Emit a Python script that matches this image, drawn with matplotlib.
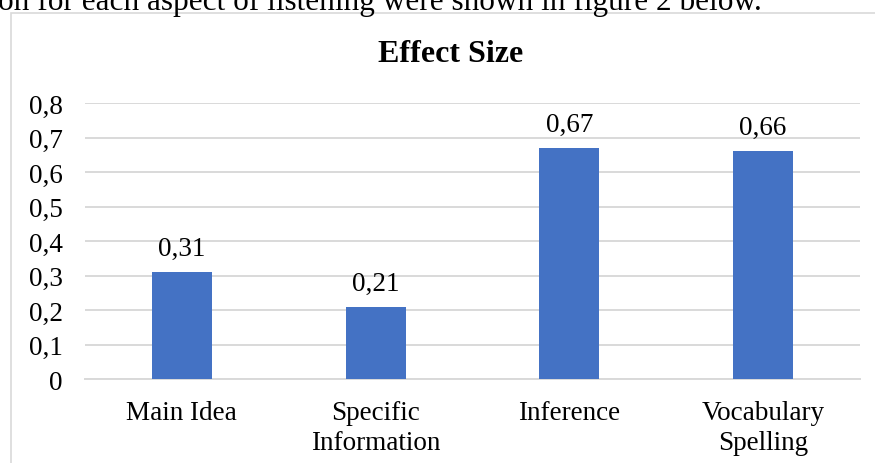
import matplotlib
matplotlib.use("Agg")
import matplotlib.pyplot as plt
from matplotlib.patches import Rectangle
from matplotlib.ticker import FuncFormatter

categories = ["Main Idea", "Specific\nInformation", "Inference", "Vocabulary\nSpelling"]
effect_size = [0.31, 0.21, 0.67, 0.66]
yticks = [0, 0.1, 0.2, 0.3, 0.4, 0.5, 0.6, 0.7, 0.8]

plt.rcParams['font.family'] = ['Liberation Serif', 'DejaVu Serif']

W, H = 875, 464
fig = plt.figure(figsize=(W / 100, H / 100), dpi=100)

# chart frame from the document
fig.patches.append(Rectangle((11 / W, -0.1), 1.2, 1 - 14 / H + 0.1, transform=fig.transFigure,
                             fill=False, edgecolor='#d9d9d9', linewidth=1.2))
# cut off sentence of the paper above the chart
fig.text(-2 / W, 1 - 10 / H, "on for each aspect of listening were shown in figure 2 below.",
         fontsize=22.5, ha='left', va='baseline')

ax = fig.add_axes([85 / W, 1 - 380 / H, 775 / W, 276 / H])
x = range(len(categories))
bars = ax.bar(x, effect_size, width=0.31, color='#4472C4', zorder=3)

ax.set_xlim(-0.5, len(categories) - 0.5)
ax.set_ylim(0, 0.8)
ax.set_yticks(yticks)
ax.yaxis.set_major_formatter(FuncFormatter(lambda v, p: ('%g' % round(v, 1)).replace('.', ',')))
ax.grid(axis='y', color='#d9d9d9', linewidth=1.4, zorder=0)
ax.set_axisbelow(True)
for s in ['top', 'right', 'left']:
    ax.spines[s].set_visible(False)
ax.spines['bottom'].set_color('#d9d9d9')
ax.spines['bottom'].set_linewidth(1.4)
ax.set_xticks(list(x))
ax.set_xticklabels(categories, fontsize=19.5, linespacing=1.25)
ax.tick_params(axis='x', length=0, pad=15)
ax.tick_params(axis='y', length=0, pad=16, labelsize=19.5)
ax.set_facecolor('none')

for b, v in zip(bars, effect_size):
    ax.annotate(('%.2f' % v).replace('.', ','), (b.get_x() + b.get_width() / 2, v),
                xytext=(0, 8), textcoords='offset points', ha='center', va='bottom', fontsize=19.5)

fig.text(451 / W, 1 - 55 / H, "Effect Size", fontsize=23, fontweight='bold', ha='center', va='center')

fig.savefig("out.png", dpi=100)
